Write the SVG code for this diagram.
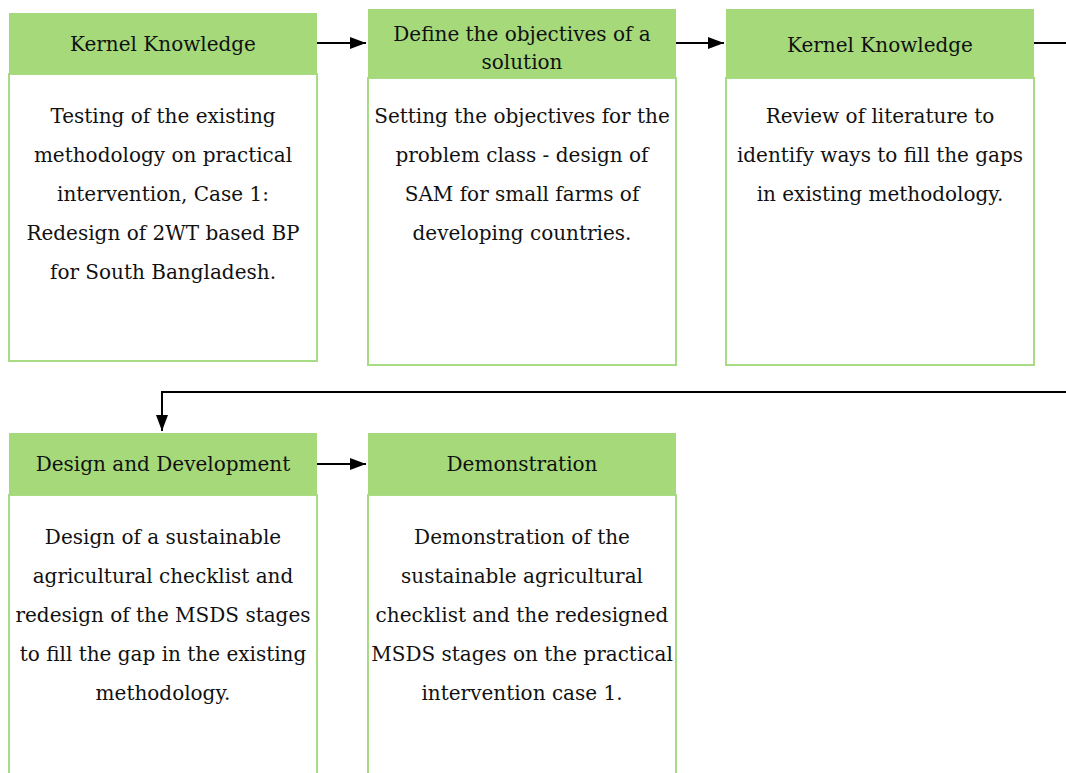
<svg xmlns="http://www.w3.org/2000/svg" width="1066" height="773" viewBox="0 0 1066 773">
<style>
.hd{fill:#a5d97a;}
.bd{fill:#fff;stroke:#a8dc84;stroke-width:2;}
text{font-family:"DejaVu Serif","Liberation Serif",serif;fill:#111;text-anchor:middle;}
.ht{font-size:20px;}
.bt{font-size:20px;}
.cn{fill:none;stroke:#000;stroke-width:2;}
</style>
<defs>
<marker id="ah2" viewBox="0 0 16 12" refX="16" refY="6" markerWidth="16" markerHeight="12" markerUnits="userSpaceOnUse" orient="auto">
<path d="M0,0 L16,6 L0,12 z" fill="#000"/>
</marker>
</defs>
<g id="connectors">
<path class="cn" d="M317,43 H366" marker-end="url(#ah2)"/>
<path class="cn" d="M676,43 H724" marker-end="url(#ah2)"/>
<path class="cn" d="M1034,43 H1070"/>
<path class="cn" d="M1070,392 H162 V431" marker-end="url(#ah2)"/>
<path class="cn" d="M317,464 H366" marker-end="url(#ah2)"/>
</g>
<g id="n1">
<rect class="bd" x="9" y="74" width="308" height="287"/>
<rect class="hd" x="9" y="13" width="308" height="61"/>
<text class="ht" x="163" y="51">Kernel Knowledge</text>
<text class="bt" x="163" y="123">Testing of the existing</text>
<text class="bt" x="163" y="162">methodology on practical</text>
<text class="bt" x="163" y="201">intervention, Case 1:</text>
<text class="bt" x="163" y="240">Redesign of 2WT based BP</text>
<text class="bt" x="163" y="279">for South Bangladesh.</text>
</g>
<g id="n2">
<rect class="bd" x="368" y="78" width="308" height="287"/>
<rect class="hd" x="368" y="9" width="308" height="69"/>
<text class="ht" x="522" y="41">Define the objectives of a</text>
<text class="ht" x="522" y="69">solution</text>
<text class="bt" x="522" y="123">Setting the objectives for the</text>
<text class="bt" x="522" y="162">problem class - design of</text>
<text class="bt" x="522" y="201">SAM for small farms of</text>
<text class="bt" x="522" y="240">developing countries.</text>
</g>
<g id="n3">
<rect class="bd" x="726" y="78" width="308" height="287"/>
<rect class="hd" x="726" y="9" width="308" height="69"/>
<text class="ht" x="880" y="52">Kernel Knowledge</text>
<text class="bt" x="880" y="123">Review of literature to</text>
<text class="bt" x="880" y="162">identify ways to fill the gaps</text>
<text class="bt" x="880" y="201">in existing methodology.</text>
</g>
<g id="n4">
<rect class="bd" x="9" y="495" width="308" height="290"/>
<rect class="hd" x="9" y="433" width="308" height="62"/>
<text class="ht" x="163" y="471">Design and Development</text>
<text class="bt" x="163" y="544">Design of a sustainable</text>
<text class="bt" x="163" y="583">agricultural checklist and</text>
<text class="bt" x="163" y="622">redesign of the MSDS stages</text>
<text class="bt" x="163" y="661">to fill the gap in the existing</text>
<text class="bt" x="163" y="700">methodology.</text>
</g>
<g id="n5">
<rect class="bd" x="368" y="495" width="308" height="290"/>
<rect class="hd" x="368" y="433" width="308" height="62"/>
<text class="ht" x="522" y="471">Demonstration</text>
<text class="bt" x="522" y="544">Demonstration of the</text>
<text class="bt" x="522" y="583">sustainable agricultural</text>
<text class="bt" x="522" y="622">checklist and the redesigned</text>
<text class="bt" x="522" y="661">MSDS stages on the practical</text>
<text class="bt" x="522" y="700">intervention case 1.</text>
</g>
</svg>
